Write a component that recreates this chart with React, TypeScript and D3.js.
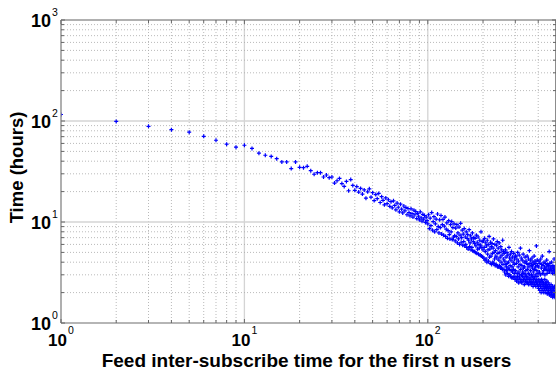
import React from "react";
import * as d3 from "d3";

// Time (hours) for the first n users, n = 1, 2, 3, ...
const timesHead = [
  116, 99, 88.5, 82, 77.5, 70.5, 64.5, 59, 55, 57.5,
  53.5, 48, 45.8, 44.6, 42.4, 39.3, 39.3, 33.8, 39.3, 34.8,
  34.5, 35.6, 32.2, 29.7, 30.8, 30.8, 27.9, 29.2, 27.5, 27.9,
  24.3, 25.6,
];
const timesMid = [
  27.0, 24.0, 22.5, 25.2, 20.4, 26.3, 23.0, 20.6, 22.4, 19.8,
  21.5, 18.9, 20.8, 17.2, 19.9, 21.3, 17.6, 19.5,
  16.3, 18.7, 17.0, 19.2, 15.6, 17.8, 16.4, 14.8, 17.3, 15.2,
  16.6, 14.3, 15.9, 13.8, 16.2, 14.6, 13.2, 15.4, 14.0, 12.6,
  15.0, 13.4, 12.3, 14.4, 12.9, 13.9, 11.8, 13.6, 12.4, 11.5,
  13.5, 12.1, 11.2, 13.1, 11.8, 12.7, 10.8, 12.2, 11.4, 10.5,
  12.6, 11.0, 10.2, 11.9, 10.7, 11.6, 9.9, 11.2, 10.3, 9.6,
];
const times101to200 = [
  11.8, 8.6, 10.9, 9.2, 12.4, 8.3, 10.1, 11.3, 8.0, 9.6,
  10.7, 8.4, 12.0, 9.0, 7.8, 10.5, 8.8, 11.6, 7.6, 9.4,
  10.6, 7.4, 9.1, 11.2, 7.2, 8.5, 9.8, 6.9, 8.2, 10.3,
  7.5, 6.8, 9.4, 8.0, 10.1, 6.7, 8.8, 7.1, 9.6, 7.3,
  6.5, 8.7, 7.2, 9.4, 6.2, 7.8, 6.8, 8.9, 6.0, 7.4,
  9.7, 6.3, 7.0, 8.3, 5.9, 7.6, 6.4, 8.6, 5.8, 7.1,
  6.0, 8.0, 5.6, 6.9, 7.5, 5.4, 6.6, 8.4, 5.7, 6.2,
  7.3, 5.3, 6.8, 5.6, 7.8, 5.2, 6.4, 7.0, 5.1, 6.1,
  6.9, 5.0, 5.8, 7.4, 4.9, 6.3, 5.4, 7.1, 4.8, 6.0,
  5.5, 6.6, 4.7, 5.9, 8.0, 4.6, 5.6, 6.4, 4.5, 5.3,
];
const times201to300 = [
  6.5, 4.4, 5.6, 6.9, 4.2, 5.1, 6.2, 4.3, 5.8, 4.0,
  6.6, 4.8, 5.3, 4.1, 6.0, 7.2, 4.5, 5.4, 3.9, 6.3,
  4.6, 5.7, 3.8, 6.1, 4.9, 4.0, 5.5, 6.8, 3.9, 5.0,
  4.3, 6.0, 3.7, 5.2, 4.6, 3.8, 5.9, 4.4, 6.4, 3.6,
  4.9, 5.5, 3.6, 4.2, 6.2, 3.7, 5.0, 4.5, 3.5, 5.7,
  4.0, 3.5, 5.3, 4.7, 3.4, 6.6, 3.8, 4.3, 5.1, 3.4,
  4.9, 3.2, 4.1, 3.8, 5.3, 3.0, 4.5, 3.6, 3.3, 5.0,
  3.9, 3.1, 4.7, 3.5, 4.0, 2.9, 5.6, 3.4, 4.4, 3.0,
  3.7, 4.8, 2.9, 4.2, 3.3, 5.1, 2.8, 3.6, 4.5, 3.2,
  2.8, 4.0, 3.4, 4.9, 2.9, 3.8, 4.3, 3.1, 2.7, 4.6,
];
const times301to400 = [
  3.3, 4.6, 2.8, 3.9, 2.6, 4.3, 3.1, 2.9, 5.0, 2.7,
  3.6, 4.1, 2.5, 3.2, 4.7, 2.8, 3.0, 3.8, 2.6, 5.5,
  3.4, 2.7, 4.4, 3.0, 2.5, 3.7, 4.2, 2.9, 3.2, 2.6,
  4.8, 3.5, 2.7, 3.1, 4.0, 2.4, 3.6, 2.8, 4.5, 3.0,
  2.6, 3.3, 4.1, 2.5, 3.9, 2.9, 2.7, 4.6, 3.4, 2.5,
  3.8, 2.8, 3.1, 4.3, 2.4, 3.6, 2.6, 5.2, 3.0, 2.7,
  3.9, 2.5, 3.3, 4.2, 2.8, 2.4, 3.7, 3.0, 2.6, 4.4,
  2.5, 3.5, 2.9, 4.0, 2.3, 3.2, 2.7, 3.8, 2.5, 4.6,
  2.8, 3.4, 2.4, 4.1, 3.0, 2.6, 3.6, 2.3, 3.9, 2.7,
  5.8, 2.5, 3.3, 2.9, 4.2, 2.4, 3.7, 2.6, 3.1, 2.3,
];
const times401to500 = [
  3.6, 2.2, 2.7, 4.1, 2.4, 3.2, 2.5, 2.1, 3.9, 2.6,
  3.0, 2.3, 4.3, 2.5, 2.0, 3.5, 2.7, 3.8, 2.2, 2.4,
  4.6, 2.6, 3.1, 2.1, 3.7, 2.3, 2.5, 3.3, 2.0, 4.0,
  2.4, 2.2, 3.5, 2.7, 3.0, 2.1, 3.9, 2.3, 2.5, 3.4,
  2.0, 3.6, 2.4, 2.2, 4.2, 2.6, 3.1, 1.95, 3.8, 2.3,
  2.1, 3.3, 2.5, 3.7, 2.0, 2.2, 3.5, 2.4, 5.1, 1.9,
  3.2, 2.3, 3.9, 2.1, 2.0, 3.4, 2.2, 3.6, 1.85, 2.4,
  3.3, 2.0, 4.0, 2.2, 1.9, 3.5, 2.1, 3.1, 2.3, 1.8,
  3.7, 2.0, 3.3, 2.2, 1.9, 3.5, 2.1, 4.3, 1.85, 2.3,
  3.2, 2.0, 1.8, 3.6, 2.2, 3.4, 1.9, 2.1, 3.0, 1.95,
];

const xDomain = [1, 500];
const yDomain = [1, 1000];
const xMajorTicks = [1, 10, 100];
const yMajorTicks = [1, 10, 100, 1000];
const xLabel = "Feed inter-subscribe time for the first n users";
const yLabel = "Time (hours)";

const W = 556;
const H = 369;
const L = 61, R = 556, T = 20, B = 323;
const FONT = "'Liberation Sans', Arial, Helvetica, sans-serif";

export default function App() {
  const x = d3.scaleLog().domain(xDomain).range([L, R]);
  const y = d3.scaleLog().domain(yDomain).range([B, T]);
  const allTimes = [
    ...timesHead, ...timesMid, ...times101to200,
    ...times201to300, ...times301to400, ...times401to500,
  ];
  const points = allTimes.map((t, i) => ({ n: i + 1, t }));
  const xTicks = x.ticks();
  const yTicks = y.ticks();
  const isMajor = (v: number) => Math.abs(Math.log10(v) - Math.round(Math.log10(v))) < 1e-9;
  const exp = (v: number) => Math.round(Math.log10(v));
  const s = 2;

  return (
    <svg width={W} height={H} style={{ position: "absolute", left: 0, top: 0, background: "#fff" }}>
      <defs>
        <clipPath id="plot">
          <rect x={L} y={T} width={R - L} height={B - T} />
        </clipPath>
      </defs>
      <rect x={0} y={0} width={W} height={H} fill="#fff" />
      {/* grid */}
      <g>
        {xTicks.map((v) =>
          isMajor(v) ? (
            <line key={"gx" + v} x1={x(v)} x2={x(v)} y1={T} y2={B} stroke="#d4d4d4" strokeWidth={1.3} />
          ) : (
            <line key={"gx" + v} x1={x(v)} x2={x(v)} y1={T} y2={B} stroke="#a8a8a8" strokeWidth={0.8} strokeDasharray="1,2" />
          )
        )}
        {yTicks.map((v) =>
          isMajor(v) ? (
            <line key={"gy" + v} x1={L} x2={R} y1={y(v)} y2={y(v)} stroke="#d4d4d4" strokeWidth={1.3} />
          ) : (
            <line key={"gy" + v} x1={L} x2={R} y1={y(v)} y2={y(v)} stroke="#a8a8a8" strokeWidth={0.8} strokeDasharray="1,2" />
          )
        )}
      </g>
      {/* points */}
      <g clipPath="url(#plot)" stroke="#0000ff" strokeWidth={1.2}>
        {points.map((p) => {
          const cx = x(p.n), cy = y(p.t);
          return (
            <path key={p.n} d={`M${cx - s},${cy}H${cx + s}M${cx},${cy - s}V${cy + s}`} />
          );
        })}
      </g>
      {/* axes box */}
      <g stroke="#8c8c8c" fill="none">
        <line x1={L} x2={R} y1={B} y2={B} strokeWidth={1.2} />
        <line x1={L} x2={L} y1={T} y2={B} strokeWidth={1.2} />
        <line x1={L} x2={R} y1={T} y2={T} strokeWidth={1.4} stroke="#a0a0a0" />
        <line x1={R - 0.5} x2={R - 0.5} y1={T} y2={B} strokeWidth={1} />
      </g>
      {/* ticks */}
      <g stroke="#666" strokeWidth={1}>
        {xTicks.map((v) => (
          <g key={"tx" + v}>
            <line x1={x(v)} x2={x(v)} y1={B} y2={B - (isMajor(v) ? 4 : 3)} />
            <line x1={x(v)} x2={x(v)} y1={T} y2={T + (isMajor(v) ? 4 : 3)} />
          </g>
        ))}
        {yTicks.map((v) => (
          <g key={"ty" + v}>
            <line x1={L} x2={L + (isMajor(v) ? 4 : 3)} y1={y(v)} y2={y(v)} />
            <line x1={R} x2={R - (isMajor(v) ? 4 : 3)} y1={y(v)} y2={y(v)} />
          </g>
        ))}
      </g>
      {/* tick labels */}
      <g fontFamily={FONT} fill="#000">
        {yMajorTicks.map((v) => (
          <g key={"ly" + v}>
            <text x={51} y={y(v) + 6.5} textAnchor="end" fontSize={18} fontWeight="bold">10</text>
            <text x={52} y={y(v) - 4} fontSize={10.5}>{exp(v)}</text>
          </g>
        ))}
        {xMajorTicks.map((v) => (
          <g key={"lx" + v}>
            <text x={x(v) + 6} y={345.5} textAnchor="end" fontSize={17} fontWeight="bold">10</text>
            <text x={x(v) + 7} y={334} fontSize={10.5}>{exp(v)}</text>
          </g>
        ))}
      </g>
      {/* axis labels */}
      <text x={(L + R) / 2 - 2} y={366.5} textAnchor="middle" fontFamily={FONT} fontWeight="bold" fontSize={19}>
        {xLabel}
      </text>
      <text
        transform={`translate(23, ${(T + B) / 2 - 4}) rotate(-90)`}
        textAnchor="middle"
        fontFamily={FONT}
        fontWeight="bold"
        fontSize={18.5}
      >
        {yLabel}
      </text>
    </svg>
  );
}
